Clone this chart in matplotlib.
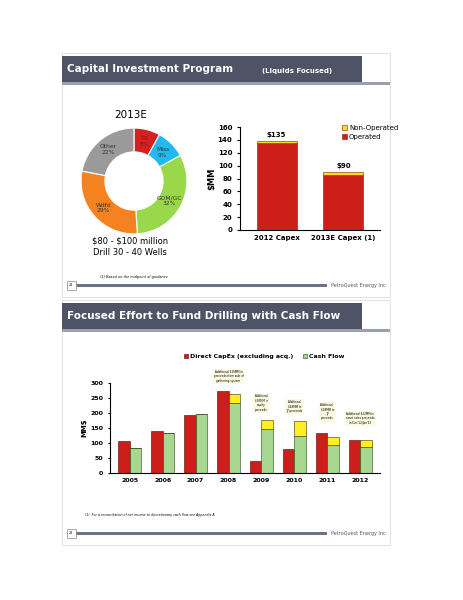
import matplotlib
matplotlib.use("Agg")
import matplotlib.pyplot as plt
from matplotlib.patches import Rectangle
import numpy as np

# ---- data ----
pie_labels = ["TX\n8%", "Miss\n9%", "GOM/GC\n32%", "Wdfd\n29%", "Other\n22%"]
pie_values = [8, 9, 32, 29, 22]
pie_colors = ["#d42020", "#22b8f0", "#99d84a", "#f58220", "#9a9a9a"]

capex_cats = ["2012 Capex", "2013E Capex (1)"]
operated = [135, 86]
non_operated = [4, 4]
capex_labels = [r"\$135", r"\$90"]

years = ["2005", "2006", "2007", "2008", "2009", "2010", "2011", "2012"]
direct_capex = [107, 140, 193, 275, 40, 80, 133, 110]
cash_flow = [83, 133, 197, 235, 147, 122, 93, 87]
additional = [0, 0, 0, 30, 30, 52, 28, 22]
notes = ["", "", "", "Additional \\$30MM in\nproceeds from sale of\ngathering system",
         "Additional\n\\$30MM in\nequity\nproceeds", "Additional\n\\$48MM in\nJV proceeds",
         "Additional\n\\$28MM in\nJV\nproceeds", "Additional \\$22MM in\nasset sales proceeds\nin Dec'12/Jan'13"]

W, H = 464, 600
fig = plt.figure(figsize=(W/100, H/100), dpi=100)
fig.patch.set_facecolor("white")

def ax_px(x0, y0, x1, y1, **kw):
    return fig.add_axes([x0/W, 1-y1/H, (x1-x0)/W, (y1-y0)/H], **kw)

bg = ax_px(0, 0, W, H)
bg.set_xlim(0, W); bg.set_ylim(H, 0); bg.axis("off")
for (y0, y1, title, sub, num) in [(53, 297, "Capital Investment Program", "(Liquids Focused)", "21"),
                                  (300, 545, "Focused Effort to Fund Drilling with Cash Flow", "", "22")]:
    bg.add_patch(Rectangle((62, y0), 328, y1-y0, fc="white", ec="#dddddd", lw=0.6))
    bg.add_patch(Rectangle((62, y0+3), 300, 27, fc="#4e5466", ec="none"))
    bg.add_patch(Rectangle((62, y0+29), 328, 3, fc="#9aa0b0", ec="none"))
    bg.text(67, y0+16, title, color="white", fontsize=7.5, fontweight="bold", va="center")
    if sub:
        bg.text(262, y0+18, sub, color="white", fontsize=5, fontweight="bold", va="center")
    bg.add_patch(Rectangle((75, y1-13), 252, 3, fc="#6d7386", ec="none"))
    bg.add_patch(Rectangle((67, y1-16), 9, 9, fc="white", ec="#888888", lw=0.5))
    bg.text(71.5, y1-11.5, num, fontsize=2.5, ha="center", va="center")
    bg.text(358, y1-11, "PetroQuest Energy Inc", fontsize=3.5, color="#555566", ha="center", va="center")
bg.text(131, 115, "2013E", fontsize=7.5, ha="center", va="center")
bg.text(130, 247, "\\$80 - \\$100 million\nDrill 30 - 40 Wells", fontsize=6, ha="center", va="center", linespacing=1.4)
bg.text(100, 278, "(1) Based on the midpoint of guidance", fontsize=2.5, style="italic")
bg.text(85, 516, "(1)  For a reconciliation of net income to discretionary cash flow see Appendix A", fontsize=2.3, style="italic")

# donut
pa = ax_px(80, 127, 188, 235)
w, _ = pa.pie(pie_values, colors=pie_colors, startangle=90, counterclock=False, radius=1,
              wedgeprops=dict(width=0.45, edgecolor="white", linewidth=0.8))
for wed, lab in zip(w, pie_labels):
    ang = np.deg2rad((wed.theta1 + wed.theta2)/2)
    pa.text(0.77*np.cos(ang), 0.77*np.sin(ang), lab, fontsize=4.3, ha="center", va="center",
            color="#8b1a1a" if lab.startswith("TX") else "#333333")
pa.set_xlim(-1.02, 1.02); pa.set_ylim(-1.02, 1.02)
pa.set_aspect("equal")

# capex bar
ba = ax_px(240, 127, 380, 230)
x = np.arange(len(capex_cats))
ba.bar(x, operated, 0.6, color="#cc1f1a", label="Operated", edgecolor="#991111", lw=0.4)
ba.bar(x, non_operated, 0.6, bottom=operated, color="#f5e020", label="Non-Operated", edgecolor="#991111", lw=0.4)
for xi, o, n, l in zip(x, operated, non_operated, capex_labels):
    ba.text(xi, o+n+4, l, fontsize=5, fontweight="bold", ha="center", va="bottom")
ba.set_ylim(0, 160); ba.set_yticks(range(0, 161, 20)); ba.set_xlim(-0.55, 1.55)
ba.set_xticks(x); ba.set_xticklabels(capex_cats, fontsize=5, fontweight="bold")
ba.tick_params(axis="y", labelsize=5, length=2); ba.tick_params(axis="x", length=0)
for t in ba.get_yticklabels(): t.set_fontweight("bold")
ba.set_ylabel("\\$MM", fontsize=6, fontweight="bold", labelpad=1)
for s in ["top", "right"]: ba.spines[s].set_visible(False)
ba.patch.set_alpha(0)
h, l = ba.get_legend_handles_labels()
ba.legend(h[::-1], l[::-1], loc="upper right", bbox_to_anchor=(1.15, 1.05), fontsize=5, frameon=False,
          handlelength=0.7, handleheight=0.7, handletextpad=0.3, borderaxespad=0)

# cash flow chart
ca = ax_px(110, 383, 380, 473)
xi = np.arange(len(years))
bw = 0.35
ca.bar(xi-bw/2, direct_capex, bw, color="#cc1f1a", edgecolor="#550000", lw=0.4, label="Direct CapEx (excluding acq.)")
ca.bar(xi+bw/2, cash_flow, bw, color="#a8d890", edgecolor="#224422", lw=0.4, label="Cash Flow")
ca.bar(xi+bw/2, additional, bw, bottom=cash_flow, color="#ffee22", edgecolor="#333300", lw=0.4)
note_y = [0, 0, 0, 300, 205, 200, 175, 160]
for i, n in enumerate(notes):
    if n:
        ca.text(xi[i], note_y[i], n, fontsize=2, ha="center", va="bottom",
                bbox=dict(fc="#fafae0", ec="none", pad=0.8), clip_on=False)
ca.set_ylim(0, 300); ca.set_yticks(range(0, 301, 50)); ca.set_xlim(-0.6, 7.6)
ca.set_xticks(xi); ca.set_xticklabels(years, fontsize=4.5, fontweight="bold")
ca.tick_params(axis="y", labelsize=4.5, length=1.5); ca.tick_params(axis="x", length=0)
for t in ca.get_yticklabels(): t.set_fontweight("bold")
ca.set_ylabel("MM\\$", fontsize=5, fontweight="bold", labelpad=2)
for s in ["top", "right"]: ca.spines[s].set_visible(False)
ca.patch.set_alpha(0)
ca.legend(loc="lower center", bbox_to_anchor=(0.57, 1.2), ncol=2, frameon=False,
          handlelength=0.7, handleheight=0.7, handletextpad=0.3, columnspacing=1.5,
          prop=dict(size=4.5, weight="bold"))

fig.savefig("out.png", dpi=100)
